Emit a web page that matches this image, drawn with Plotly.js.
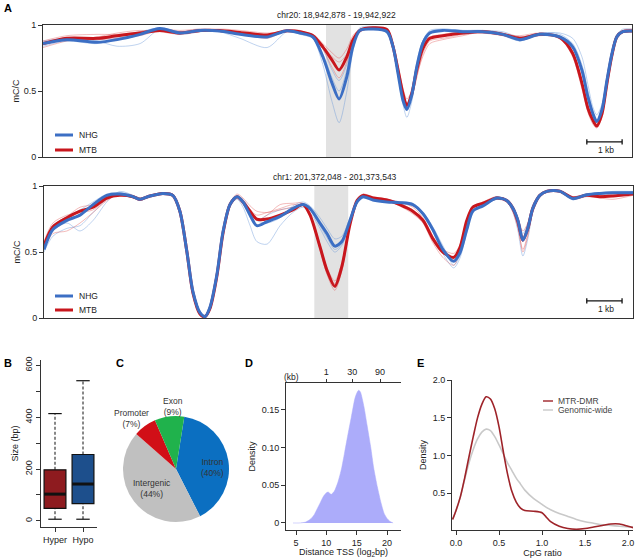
<!DOCTYPE html>
<html>
<head>
<meta charset="utf-8">
<script src="https://cdn.plot.ly/plotly-3.0.1.min.js"></script>
<style>html,body{margin:0;padding:0;background:#fff;}#chart{width:639px;height:558px;}</style>
</head>
<body>
<div id="chart"></div>
<script>
// ---------------- Panel A (top): chr20 ----------------
const topTitle = 'chr20: 18,942,878 - 19,942,922';
const topPos = [0.00,0.68,1.53,2.10,2.75,3.31,3.88,4.45,5.01,5.58,6.35,6.91,7.28,7.65,7.93,8.19,8.39,8.61,8.78,8.98,9.35,9.75,9.92,10.06,10.20,10.31,10.45,10.59,10.76,10.96,11.33,11.90,12.46,13.03,13.51,14.08,14.65,15.01,15.27,15.44,15.58,15.69,15.84,15.98,16.12,16.26,16.43,16.69];
const topNHG = [0.86,0.89,0.87,0.89,0.93,0.975,0.94,0.96,0.955,0.93,0.91,0.957,0.94,0.91,0.76,0.56,0.44,0.61,0.835,0.96,0.97,0.95,0.835,0.634,0.43,0.36,0.47,0.68,0.86,0.94,0.96,0.95,0.95,0.93,0.89,0.93,0.91,0.835,0.66,0.457,0.33,0.27,0.36,0.58,0.78,0.91,0.95,0.955];
const topMTB = [0.86,0.90,0.90,0.92,0.94,0.96,0.94,0.96,0.96,0.945,0.925,0.957,0.95,0.92,0.835,0.735,0.66,0.76,0.886,0.96,0.98,0.965,0.835,0.66,0.48,0.39,0.48,0.66,0.82,0.90,0.92,0.94,0.95,0.93,0.90,0.93,0.905,0.785,0.56,0.37,0.28,0.235,0.33,0.56,0.77,0.91,0.95,0.955];
const topNHG_r1 = [0.88,0.90,0.88,0.84,0.86,0.97,0.95,0.97,0.95,0.90,0.83,0.95,0.95,0.90,0.70,0.42,0.26,0.50,0.80,0.97,0.98,0.96,0.85,0.62,0.40,0.30,0.42,0.66,0.86,0.95,0.97,0.96,0.96,0.94,0.88,0.94,0.93,0.86,0.70,0.50,0.34,0.26,0.34,0.58,0.80,0.93,0.96,0.96];
const topNHG_r2 = [0.84,0.88,0.86,0.90,0.94,0.98,0.93,0.95,0.96,0.94,0.92,0.96,0.93,0.90,0.78,0.60,0.50,0.66,0.86,0.97,0.98,0.94,0.82,0.62,0.42,0.37,0.50,0.72,0.88,0.95,0.96,0.95,0.95,0.92,0.88,0.93,0.90,0.82,0.64,0.44,0.31,0.27,0.38,0.60,0.80,0.92,0.95,0.95];
const topNHG_r3 = [0.87,0.89,0.89,0.91,0.95,0.98,0.95,0.96,0.95,0.93,0.92,0.96,0.95,0.93,0.82,0.66,0.58,0.70,0.88,0.98,0.99,0.97,0.86,0.66,0.46,0.38,0.48,0.70,0.88,0.96,0.97,0.96,0.96,0.95,0.91,0.94,0.94,0.90,0.76,0.55,0.38,0.32,0.40,0.62,0.82,0.93,0.97,0.97];
const topMTB_r1 = [0.83,0.88,0.91,0.94,0.96,0.95,0.93,0.95,0.97,0.96,0.94,0.95,0.94,0.93,0.86,0.79,0.75,0.82,0.92,0.97,0.98,0.96,0.86,0.70,0.52,0.44,0.50,0.62,0.76,0.86,0.89,0.92,0.95,0.93,0.92,0.94,0.90,0.76,0.52,0.34,0.25,0.22,0.30,0.52,0.74,0.90,0.96,0.97];
const topMTB_r2 = [0.88,0.92,0.93,0.93,0.95,0.97,0.96,0.97,0.96,0.94,0.90,0.96,0.96,0.91,0.82,0.68,0.60,0.72,0.87,0.96,0.97,0.97,0.84,0.64,0.46,0.40,0.52,0.70,0.84,0.91,0.93,0.95,0.94,0.92,0.89,0.92,0.91,0.80,0.58,0.40,0.30,0.26,0.36,0.58,0.79,0.92,0.96,0.96];
const topMTB_r3 = [0.85,0.89,0.89,0.90,0.92,0.96,0.95,0.96,0.95,0.93,0.93,0.96,0.95,0.92,0.84,0.76,0.72,0.78,0.89,0.96,0.98,0.96,0.84,0.68,0.50,0.41,0.46,0.60,0.78,0.88,0.90,0.93,0.96,0.94,0.91,0.93,0.91,0.78,0.55,0.36,0.27,0.24,0.34,0.57,0.78,0.92,0.95,0.96];

// ---------------- Panel A (bottom): chr1 ----------------
const botTitle = 'chr1: 201,372,048 - 201,373,543';
const botPos = [0.00,0.25,0.65,1.02,1.39,1.78,2.15,2.52,2.72,3.00,3.37,3.65,3.85,4.05,4.22,4.42,4.56,4.70,4.90,5.07,5.27,5.47,5.64,5.84,6.03,6.32,6.69,7.05,7.34,7.54,7.82,8.02,8.24,8.44,8.67,8.87,9.04,9.32,9.72,10.08,10.45,10.74,11.02,11.30,11.61,11.78,11.98,12.15,12.44,12.83,13.12,13.29,13.43,13.57,13.71,13.85,14.05,14.25,14.62,14.99,15.38,15.75,16.12,16.69];
const botNHG = [0.52,0.67,0.74,0.78,0.86,0.93,0.94,0.92,0.90,0.925,0.945,0.93,0.81,0.50,0.20,0.04,0.01,0.08,0.33,0.65,0.86,0.92,0.88,0.78,0.70,0.73,0.77,0.83,0.86,0.83,0.72,0.64,0.545,0.58,0.74,0.88,0.92,0.895,0.88,0.875,0.86,0.79,0.67,0.52,0.43,0.49,0.67,0.81,0.85,0.91,0.89,0.83,0.74,0.59,0.68,0.83,0.93,0.96,0.96,0.905,0.935,0.945,0.95,0.95];
const botMTB = [0.55,0.69,0.76,0.81,0.84,0.91,0.93,0.92,0.90,0.925,0.945,0.93,0.81,0.50,0.19,0.03,0.01,0.07,0.32,0.64,0.86,0.92,0.88,0.81,0.75,0.75,0.78,0.82,0.86,0.78,0.54,0.36,0.24,0.39,0.71,0.89,0.93,0.91,0.895,0.86,0.81,0.74,0.60,0.50,0.46,0.53,0.74,0.84,0.87,0.91,0.89,0.83,0.73,0.59,0.68,0.83,0.93,0.96,0.96,0.91,0.93,0.92,0.925,0.94];
const botNHG_r1 = [0.50,0.62,0.68,0.70,0.80,0.90,0.95,0.93,0.91,0.93,0.95,0.93,0.82,0.52,0.22,0.05,0.02,0.09,0.35,0.66,0.85,0.90,0.84,0.70,0.58,0.56,0.70,0.80,0.84,0.80,0.68,0.58,0.50,0.55,0.72,0.87,0.91,0.89,0.88,0.88,0.87,0.80,0.66,0.49,0.38,0.45,0.65,0.80,0.86,0.92,0.88,0.80,0.66,0.47,0.60,0.80,0.92,0.96,0.97,0.92,0.94,0.95,0.96,0.96];
const botNHG_r2 = [0.53,0.66,0.72,0.66,0.74,0.88,0.96,0.93,0.90,0.92,0.94,0.92,0.79,0.48,0.19,0.04,0.02,0.10,0.36,0.68,0.88,0.93,0.90,0.82,0.74,0.72,0.76,0.85,0.88,0.85,0.76,0.68,0.60,0.62,0.76,0.89,0.93,0.90,0.89,0.88,0.86,0.78,0.66,0.53,0.46,0.51,0.68,0.82,0.86,0.92,0.90,0.85,0.76,0.64,0.72,0.86,0.94,0.97,0.96,0.90,0.93,0.94,0.95,0.96];
const botNHG_r3 = [0.55,0.70,0.77,0.82,0.88,0.94,0.95,0.92,0.89,0.92,0.95,0.94,0.83,0.51,0.21,0.05,0.02,0.08,0.31,0.62,0.84,0.92,0.89,0.80,0.74,0.78,0.82,0.84,0.86,0.82,0.70,0.61,0.52,0.56,0.73,0.87,0.92,0.91,0.89,0.87,0.85,0.80,0.69,0.55,0.40,0.47,0.66,0.81,0.85,0.90,0.89,0.84,0.74,0.60,0.70,0.84,0.93,0.96,0.97,0.91,0.94,0.94,0.95,0.95];
const botMTB_r1 = [0.58,0.72,0.78,0.80,0.82,0.90,0.93,0.91,0.89,0.92,0.94,0.93,0.82,0.52,0.20,0.03,0.00,0.06,0.30,0.63,0.87,0.94,0.91,0.85,0.81,0.80,0.82,0.84,0.86,0.79,0.56,0.38,0.28,0.42,0.72,0.90,0.94,0.92,0.90,0.88,0.84,0.76,0.62,0.50,0.44,0.50,0.72,0.84,0.88,0.92,0.88,0.80,0.68,0.52,0.64,0.82,0.93,0.97,0.96,0.92,0.94,0.93,0.92,0.94];
const botMTB_r2 = [0.52,0.64,0.66,0.72,0.80,0.89,0.94,0.93,0.91,0.93,0.95,0.94,0.80,0.49,0.18,0.03,0.01,0.08,0.33,0.65,0.85,0.91,0.86,0.79,0.74,0.78,0.86,0.87,0.87,0.77,0.52,0.33,0.21,0.36,0.69,0.88,0.93,0.91,0.89,0.85,0.79,0.72,0.57,0.46,0.40,0.50,0.74,0.85,0.87,0.90,0.88,0.81,0.70,0.50,0.62,0.80,0.92,0.96,0.97,0.90,0.92,0.91,0.90,0.93];
const botMTB_r3 = [0.56,0.70,0.77,0.84,0.86,0.92,0.93,0.92,0.90,0.93,0.95,0.92,0.80,0.50,0.20,0.04,0.02,0.08,0.33,0.64,0.86,0.92,0.88,0.82,0.78,0.80,0.83,0.86,0.85,0.78,0.55,0.37,0.26,0.40,0.71,0.89,0.93,0.90,0.90,0.87,0.82,0.75,0.62,0.52,0.49,0.55,0.75,0.84,0.87,0.91,0.90,0.84,0.76,0.66,0.72,0.85,0.94,0.96,0.96,0.91,0.93,0.93,0.94,0.95];
const groupNames = ['NHG', 'MTB'];

// ---------------- Panel B: DMR size ----------------
const boxCategories = ['Hyper', 'Hypo'];
const boxLower = [6, 6];
const boxQ1 = [48, 66];
const boxMedian = [103, 142];
const boxQ3 = [197, 256];
const boxUpper = [414, 541];

// ---------------- Panel C: genomic features ----------------
const pieLabels = ['Intron', 'Intergenic', 'Promoter', 'Exon'];
const pieValues = [40, 44, 7, 9];

// ---------------- Panel D: distance to TSS ----------------
const tssX = [4.5,5.5,6.5,7.0,7.5,8.0,8.5,9.0,9.5,10.0,10.3,10.8,11.3,11.9,12.5,13.0,13.5,14.1,14.7,15.0,15.3,15.6,16.2,16.7,17.3,17.8,18.4,19.0,19.5,20.0,20.5,21.0];
const tssDensity = [0,0,0.001,0.003,0.006,0.011,0.019,0.027,0.035,0.040,0.041,0.038,0.042,0.054,0.072,0.093,0.115,0.140,0.165,0.172,0.176,0.174,0.154,0.130,0.101,0.073,0.048,0.027,0.013,0.006,0.002,0.000];
const kbTickLabels = ['1', '30', '90'];
const kbTickPos = [9.97, 14.25, 18.85];

// ---------------- Panel E: CpG ratio ----------------
const cpgX = [-0.04,0.0,0.05,0.1,0.15,0.2,0.25,0.3,0.35,0.4,0.45,0.5,0.55,0.6,0.65,0.7,0.75,0.8,0.9,1.0,1.05,1.1,1.2,1.3,1.4,1.5,1.6,1.7,1.8,1.9,2.0,2.06];
const cpgMTR = [0.15,0.27,0.45,0.70,0.98,1.25,1.50,1.68,1.78,1.75,1.62,1.38,1.05,0.75,0.52,0.38,0.30,0.27,0.26,0.24,0.18,0.12,0.06,0.03,0.02,0.03,0.05,0.07,0.09,0.09,0.06,0.04];
const cpgGenome = [0.15,0.27,0.45,0.68,0.90,1.08,1.22,1.31,1.35,1.33,1.25,1.14,1.02,0.90,0.80,0.70,0.62,0.54,0.43,0.35,0.31,0.28,0.23,0.19,0.15,0.12,0.10,0.08,0.07,0.06,0.05,0.05];
const cpgNames = ['MTR-DMR', 'Genomic-wide'];

// ================= styles & helpers =================
const W = 639, H = 558;
const FONT = 'Liberation Sans, Arial, sans-serif';
const TXT = '#222';
const px = v => v / W;
const py = v => 1 - v / H;
const BLUE = '#3c6fc4', RED = '#c8161d';
const BLUE_T = 'rgba(95,145,215,0.5)', RED_T = 'rgba(225,85,85,0.5)';

const traces = [];
function addTracks(xa, ya, pos, reps, color, width) {
  reps.forEach(r => traces.push({type:'scatter', mode:'lines', x: pos, y: r, xaxis: xa, yaxis: ya,
    line:{color: color, width: width, shape:'spline', smoothing:0.8}, hoverinfo:'skip', showlegend:false}));
}
addTracks('x','y', topPos, [topNHG_r1, topNHG_r2, topNHG_r3], BLUE_T, 0.8);
addTracks('x','y', topPos, [topMTB_r1, topMTB_r2, topMTB_r3], RED_T, 0.8);
traces.push({type:'scatter', mode:'lines', name: groupNames[1], x: topPos, y: topMTB, xaxis:'x', yaxis:'y', line:{color:RED, width:3, shape:'spline', smoothing:0.8}, showlegend:false});
traces.push({type:'scatter', mode:'lines', name: groupNames[0], x: topPos, y: topNHG, xaxis:'x', yaxis:'y', line:{color:BLUE, width:3, shape:'spline', smoothing:0.8}, showlegend:false});

addTracks('x2','y2', botPos, [botNHG_r1, botNHG_r2, botNHG_r3], BLUE_T, 0.8);
addTracks('x2','y2', botPos, [botMTB_r1, botMTB_r2, botMTB_r3], RED_T, 0.8);
traces.push({type:'scatter', mode:'lines', name: groupNames[1], x: botPos, y: botMTB, xaxis:'x2', yaxis:'y2', line:{color:RED, width:3, shape:'spline', smoothing:0.8}, showlegend:false});
traces.push({type:'scatter', mode:'lines', name: groupNames[0], x: botPos, y: botNHG, xaxis:'x2', yaxis:'y2', line:{color:BLUE, width:3, shape:'spline', smoothing:0.8}, showlegend:false});

// Panel B boxes (R-style: dashed whiskers, thick median)
const boxFill = ['#8e1b1f', '#1d4f8c'];
const boxWidth = 0.78, capHalf = 0.24;
boxCategories.forEach((c, i) => {
  const xpos = i + 1;
  traces.push({type:'scatter', mode:'lines', x:[xpos, xpos], y:[boxQ3[i], boxUpper[i]], xaxis:'x3', yaxis:'y3', line:{color:'#111', width:1, dash:'3px,2px'}, showlegend:false, hoverinfo:'skip'});
  traces.push({type:'scatter', mode:'lines', x:[xpos, xpos], y:[boxLower[i], boxQ1[i]], xaxis:'x3', yaxis:'y3', line:{color:'#111', width:1, dash:'3px,2px'}, showlegend:false, hoverinfo:'skip'});
  traces.push({type:'scatter', mode:'lines', x:[xpos-capHalf, xpos+capHalf], y:[boxUpper[i], boxUpper[i]], xaxis:'x3', yaxis:'y3', line:{color:'#111', width:1.2}, showlegend:false, hoverinfo:'skip'});
  traces.push({type:'scatter', mode:'lines', x:[xpos-capHalf, xpos+capHalf], y:[boxLower[i], boxLower[i]], xaxis:'x3', yaxis:'y3', line:{color:'#111', width:1.2}, showlegend:false, hoverinfo:'skip'});
  traces.push({type:'box', name:c, x:[xpos], q1:[boxQ1[i]], median:[boxMedian[i]], q3:[boxQ3[i]],
    lowerfence:[boxQ1[i]], upperfence:[boxQ3[i]], width: boxWidth, xaxis:'x3', yaxis:'y3',
    fillcolor: boxFill[i], line:{color:'#111', width:1.2}, whiskerwidth:0, showlegend:false, hoverinfo:'skip'});
  traces.push({type:'scatter', mode:'lines', x:[xpos-boxWidth/2, xpos+boxWidth/2], y:[boxMedian[i], boxMedian[i]], xaxis:'x3', yaxis:'y3', line:{color:'#111', width:3}, showlegend:false, hoverinfo:'skip'});
});

// Panel C pie
traces.push({type:'pie', labels: pieLabels, values: pieValues, sort:false, direction:'clockwise', rotation:9,
  marker:{colors:['#0b6fc1','#c0c0c0','#d10f17','#20b24c'], line:{width:0}},
  textinfo:'none', hoverinfo:'label+percent', showlegend:false,
  domain:{x:[px(123), px(229)], y:[py(522), py(416)]}});

// Panel D density (bottom axis) + same curve bound to the top kb axis so it is drawn
traces.push({type:'scatter', mode:'lines', x: tssX, y: tssDensity, xaxis:'x4', yaxis:'y4', fill:'tozeroy',
  fillcolor:'rgba(168,168,250,0.95)', line:{color:'rgba(168,168,250,1)', width:0.5, shape:'spline', smoothing:0.6}, showlegend:false});
traces.push({type:'scatter', mode:'lines', x: tssX, y: tssDensity, xaxis:'x5', yaxis:'y4', opacity:0,
  line:{width:0}, hoverinfo:'skip', showlegend:false});

// Panel E density curves
traces.push({type:'scatter', mode:'lines', name: cpgNames[1], x: cpgX, y: cpgGenome, xaxis:'x6', yaxis:'y6', line:{color:'#c9c9c9', width:1.6, shape:'spline', smoothing:0.8}, showlegend:false});
traces.push({type:'scatter', mode:'lines', name: cpgNames[0], x: cpgX, y: cpgMTR, xaxis:'x6', yaxis:'y6', line:{color:'#9e2329', width:1.6, shape:'spline', smoothing:0.8}, showlegend:false});

// ================= layout =================
const tickFont = {family: FONT, size: 9, color: TXT};
const titleFont = {family: FONT, size: 9, color: TXT};
const baseAxis = {showgrid:false, zeroline:false, showline:true, linecolor:'#333', linewidth:1, tickfont: tickFont, tickcolor:'#333', ticklen:4, tickwidth:1};

const ann = [];
const shapes = [];
function note(text, x, y, opts) {
  ann.push(Object.assign({text:text, xref:'paper', yref:'paper', x:px(x), y:py(y), xanchor:'center', yanchor:'middle', showarrow:false, font:{family:FONT, size:8.5, color:TXT}}, opts || {}));
}
function letter(t, x, y) { note('<b>'+t+'</b>', x, y, {xanchor:'left', font:{family:FONT, size:11, color:'#000'}}); }
letter('A', 2, 8); letter('B', 2, 363); letter('C', 114, 363); letter('D', 243, 363); letter('E', 415, 363);

note(topTitle, 336, 15);
note(botTitle, 335, 177);

// highlighted regions
const topShade = [8.02, 8.73], botShade = [7.66, 8.62];
shapes.push({type:'rect', xref:'x', yref:'y domain', x0:topShade[0], x1:topShade[1], y0:0, y1:1, fillcolor:'#e2e2e2', line:{width:0}, layer:'below'});
shapes.push({type:'rect', xref:'x2', yref:'y2 domain', x0:botShade[0], x1:botShade[1], y0:0, y1:1, fillcolor:'#e2e2e2', line:{width:0}, layer:'below'});

// scale bars (1 kb)
function scaleBar(xa, ya, x0, yv, labY) {
  shapes.push({type:'line', xref:xa, yref:ya, x0:x0, x1:x0+1, y0:yv, y1:yv, line:{color:'#111', width:1.3}});
  shapes.push({type:'line', xref:xa, yref:ya, x0:x0, x1:x0, y0:yv-0.02, y1:yv+0.02, line:{color:'#111', width:1.3}});
  shapes.push({type:'line', xref:xa, yref:ya, x0:x0+1, x1:x0+1, y0:yv-0.02, y1:yv+0.02, line:{color:'#111', width:1.3}});
  ann.push({text:'1 kb', xref:xa, yref:ya, x:x0+0.55, y:labY, xanchor:'center', yanchor:'middle', showarrow:false, font:{family:FONT, size:8.5, color:TXT}});
}
scaleBar('x', 'y', 15.41, 0.114, 0.055);
scaleBar('x2', 'y2', 15.38, 0.13, 0.065);

// legends for panel A
function legendA(yN, yM) {
  [[groupNames[0], BLUE, yN], [groupNames[1], RED, yM]].forEach(([n, c, yy]) => {
    shapes.push({type:'line', xref:'paper', yref:'paper', x0:px(55), x1:px(73), y0:py(yy), y1:py(yy), line:{color:c, width:3}});
    note(n, 77, yy, {xanchor:'left'});
  });
}
legendA(135, 150);
legendA(296, 310);

// pie labels
const pieLabelPos = [[212, 467], [152, 488], [131, 418], [173, 406]];
const pieTotal = pieValues.reduce((a, b) => a + b, 0);
pieLabels.forEach((l, i) => {
  note(l + '<br>(' + Math.round(100 * pieValues[i] / pieTotal) + '%)', pieLabelPos[i][0], pieLabelPos[i][1],
    {align:'center', font:{family:FONT, size:8.5, color:'#333'}});
});

// D top "(kb)"
note('(kb)', 291, 377);

// E legend
[[cpgNames[0], '#9e2329', 401], [cpgNames[1], '#c9c9c9', 410]].forEach(([n, c, yy]) => {
  shapes.push({type:'line', xref:'paper', yref:'paper', x0:px(543), x1:px(553), y0:py(yy), y1:py(yy), line:{color:c, width:1.4}});
  note(n, 556, yy, {xanchor:'left', font:{family:FONT, size:8.5, color:'#444'}});
});

const layout = {
  width: W, height: H, margin:{l:0, r:0, t:0, b:0}, paper_bgcolor:'#fff', plot_bgcolor:'rgba(0,0,0,0)',
  showlegend:false, font:{family:FONT, size:9, color:TXT},
  xaxis: Object.assign({}, baseAxis, {domain:[px(43), px(632)], range:[0, 16.69], anchor:'y', mirror:true, ticks:'', showticklabels:false}),
  yaxis: Object.assign({}, baseAxis, {domain:[py(157), py(25)], range:[0, 1.001], anchor:'x', mirror:true, ticks:'outside', tickvals:[0, 0.5, 1], ticktext:['0','0.5','1'], title:{text:'mC/C', font:titleFont, standoff:2}}),
  xaxis2: Object.assign({}, baseAxis, {domain:[px(44), px(633)], range:[0, 16.69], anchor:'y2', mirror:true, ticks:'', showticklabels:false}),
  yaxis2: Object.assign({}, baseAxis, {domain:[py(318), py(186)], range:[0, 1.001], anchor:'x2', mirror:true, ticks:'outside', tickvals:[0, 0.5, 1], ticktext:['0','0.5','1'], title:{text:'mC/C', font:titleFont, standoff:2}}),
  xaxis3: Object.assign({}, baseAxis, {domain:[px(41), px(97)], range:[0.5, 2.5], anchor:'y3', ticks:'outside', tickvals:[1, 2], ticktext: boxCategories}),
  yaxis3: Object.assign({}, baseAxis, {domain:[py(527), py(360)], range:[-24, 621], anchor:'x3', ticks:'outside', tickangle:-90, tickvals:[0,200,400,600], ticktext:['0','200','400','600'],
    minor:{tickvals:[100,300,500], ticks:'outside', ticklen:4, tickcolor:'#333', showgrid:false}, title:{text:'Size (bp)', font:titleFont, standoff:4}}),
  xaxis4: Object.assign({}, baseAxis, {domain:[px(286), px(401)], range:[3.35, 22.3], anchor:'y4', ticks:'outside', tickvals:[5,10,15,20], ticktext:['5','10','15','20'], tickfont:{family:FONT, size:9, color:TXT}, title:{text:'Distance TSS (log<sub>2</sub>bp)', font:{family:FONT, size:9, color:TXT}, standoff:6}}),
  xaxis5: Object.assign({}, baseAxis, {overlaying:'x4', side:'top', anchor:'y4', range:[3.35, 22.3], ticks:'outside', ticklen:3, tickvals: kbTickPos, ticktext: kbTickLabels, tickfont:{family:FONT, size:9, color:TXT}}),
  yaxis4: Object.assign({}, baseAxis, {domain:[py(530), py(383)], range:[-0.0093, 0.1857], anchor:'x4', ticks:'outside', tickvals:[0, 0.05, 0.10, 0.15], ticktext:['0','0.05','0.10','0.15'], title:{text:'Density', font:titleFont, standoff:4}}),
  xaxis6: Object.assign({}, baseAxis, {domain:[px(452), px(633)], range:[-0.047, 2.058], anchor:'y6', ticks:'outside', tickvals:[0, 0.5, 1, 1.5, 2], ticktext:['0.0','0.5','1.0','1.5','2.0'], tickfont:{family:FONT, size:9, color:TXT}, title:{text:'CpG ratio', font:titleFont, standoff:5}}),
  yaxis6: Object.assign({}, baseAxis, {domain:[py(530), py(380)], range:[0.01, 2.003], anchor:'x6', ticks:'outside', tickvals:[0.5, 1, 1.5, 2], ticktext:['0.5','1.0','1.5','2.0'], title:{text:'Density', font:titleFont, standoff:4}}),
  annotations: ann,
  shapes: shapes
};

Plotly.newPlot('chart', traces, layout, {staticPlot:true, displayModeBar:false});
</script>
</body>
</html>
